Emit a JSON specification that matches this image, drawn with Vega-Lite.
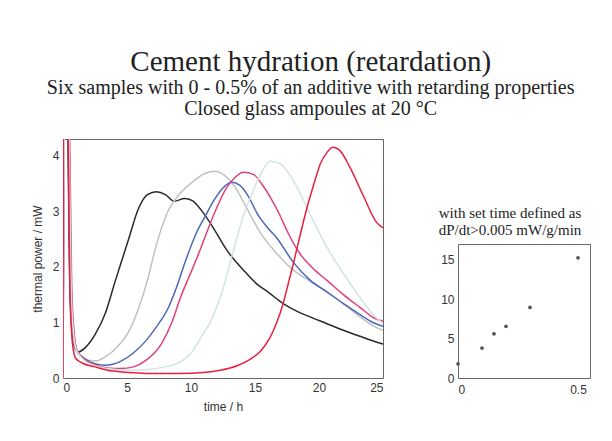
{
  "$schema": "https://vega.github.io/schema/vega-lite/v6.json",
  "background": "white",
  "padding": {"left": 30, "top": 47, "right": 5, "bottom": 5},
  "title": {
    "text": "Cement hydration (retardation)",
    "subtitle": ["Six samples with 0 - 0.5% of an additive with retarding properties", "Closed glass ampoules at 20 °C"],
    "font": "Liberation Serif", "fontSize": 29, "fontWeight": "normal", "color": "#222",
    "subtitleFont": "Liberation Serif", "subtitleFontSize": 20, "subtitleColor": "#222",
    "subtitleLineHeight": 21, "subtitlePadding": 1, "anchor": "middle", "offset": 20
  },
  "datasets": {
    "curves": [
      {"sample": "0%", "t": 0, "P": 0}, {"sample": "0%", "t": 0.1, "P": 5}, {"sample": "0%", "t": 0.3, "P": 5}, {"sample": "0%", "t": 0.55, "P": 1.5}, {"sample": "0%", "t": 0.75, "P": 0.75}, {"sample": "0%", "t": 0.95, "P": 0.52}, {"sample": "0%", "t": 1.2, "P": 0.47}, {"sample": "0%", "t": 1.8, "P": 0.56}, {"sample": "0%", "t": 2.5, "P": 0.78}, {"sample": "0%", "t": 3.3, "P": 1.16}, {"sample": "0%", "t": 4.05, "P": 1.72}, {"sample": "0%", "t": 4.6, "P": 2.12}, {"sample": "0%", "t": 5.1, "P": 2.48}, {"sample": "0%", "t": 5.9, "P": 3.05}, {"sample": "0%", "t": 6.6, "P": 3.3}, {"sample": "0%", "t": 7.3, "P": 3.35}, {"sample": "0%", "t": 8.0, "P": 3.3}, {"sample": "0%", "t": 8.7, "P": 3.18}, {"sample": "0%", "t": 9.5, "P": 3.23}, {"sample": "0%", "t": 10.1, "P": 3.19}, {"sample": "0%", "t": 10.8, "P": 3.02}, {"sample": "0%", "t": 11.8, "P": 2.68}, {"sample": "0%", "t": 12.8, "P": 2.3}, {"sample": "0%", "t": 14.1, "P": 1.94}, {"sample": "0%", "t": 15.2, "P": 1.68}, {"sample": "0%", "t": 16.0, "P": 1.55}, {"sample": "0%", "t": 17.2, "P": 1.34}, {"sample": "0%", "t": 18.3, "P": 1.2}, {"sample": "0%", "t": 19.3, "P": 1.1}, {"sample": "0%", "t": 20.5, "P": 0.99}, {"sample": "0%", "t": 21.9, "P": 0.86}, {"sample": "0%", "t": 23.2, "P": 0.75}, {"sample": "0%", "t": 24.3, "P": 0.66}, {"sample": "0%", "t": 25, "P": 0.61},

      {"sample": "0.1%", "t": 0, "P": 0}, {"sample": "0.1%", "t": 0.12, "P": 5}, {"sample": "0.1%", "t": 0.35, "P": 5}, {"sample": "0.1%", "t": 0.6, "P": 1.5}, {"sample": "0.1%", "t": 0.8, "P": 0.75}, {"sample": "0.1%", "t": 1.0, "P": 0.5}, {"sample": "0.1%", "t": 1.5, "P": 0.38}, {"sample": "0.1%", "t": 2.0, "P": 0.32}, {"sample": "0.1%", "t": 2.6, "P": 0.31}, {"sample": "0.1%", "t": 3.3, "P": 0.38}, {"sample": "0.1%", "t": 4.2, "P": 0.55}, {"sample": "0.1%", "t": 5.1, "P": 0.82}, {"sample": "0.1%", "t": 5.9, "P": 1.25}, {"sample": "0.1%", "t": 6.6, "P": 1.76}, {"sample": "0.1%", "t": 7.3, "P": 2.4}, {"sample": "0.1%", "t": 8.2, "P": 3.0}, {"sample": "0.1%", "t": 9.0, "P": 3.28}, {"sample": "0.1%", "t": 10.3, "P": 3.56}, {"sample": "0.1%", "t": 11.0, "P": 3.67}, {"sample": "0.1%", "t": 11.8, "P": 3.72}, {"sample": "0.1%", "t": 12.6, "P": 3.65}, {"sample": "0.1%", "t": 13.4, "P": 3.45}, {"sample": "0.1%", "t": 14.1, "P": 3.17}, {"sample": "0.1%", "t": 14.6, "P": 2.95}, {"sample": "0.1%", "t": 15.4, "P": 2.62}, {"sample": "0.1%", "t": 16.7, "P": 2.24}, {"sample": "0.1%", "t": 18.0, "P": 1.94}, {"sample": "0.1%", "t": 19.3, "P": 1.74}, {"sample": "0.1%", "t": 20.6, "P": 1.56}, {"sample": "0.1%", "t": 22.0, "P": 1.32}, {"sample": "0.1%", "t": 23.2, "P": 1.1}, {"sample": "0.1%", "t": 24.3, "P": 0.93}, {"sample": "0.1%", "t": 25, "P": 0.86},

      {"sample": "0.15%", "t": 0, "P": 0}, {"sample": "0.15%", "t": 0.15, "P": 5}, {"sample": "0.15%", "t": 0.4, "P": 5}, {"sample": "0.15%", "t": 0.65, "P": 1.5}, {"sample": "0.15%", "t": 0.85, "P": 0.75}, {"sample": "0.15%", "t": 1.05, "P": 0.5}, {"sample": "0.15%", "t": 1.5, "P": 0.38}, {"sample": "0.15%", "t": 2.2, "P": 0.28}, {"sample": "0.15%", "t": 3.3, "P": 0.23}, {"sample": "0.15%", "t": 4.5, "P": 0.3}, {"sample": "0.15%", "t": 5.5, "P": 0.45}, {"sample": "0.15%", "t": 6.4, "P": 0.65}, {"sample": "0.15%", "t": 7.3, "P": 0.92}, {"sample": "0.15%", "t": 8.2, "P": 1.25}, {"sample": "0.15%", "t": 8.9, "P": 1.65}, {"sample": "0.15%", "t": 9.5, "P": 2.06}, {"sample": "0.15%", "t": 10.5, "P": 2.65}, {"sample": "0.15%", "t": 11.2, "P": 2.95}, {"sample": "0.15%", "t": 11.8, "P": 3.2}, {"sample": "0.15%", "t": 12.5, "P": 3.42}, {"sample": "0.15%", "t": 13.2, "P": 3.52}, {"sample": "0.15%", "t": 13.8, "P": 3.47}, {"sample": "0.15%", "t": 14.4, "P": 3.3}, {"sample": "0.15%", "t": 15.2, "P": 2.95}, {"sample": "0.15%", "t": 16.0, "P": 2.7}, {"sample": "0.15%", "t": 16.7, "P": 2.52}, {"sample": "0.15%", "t": 18.0, "P": 2.08}, {"sample": "0.15%", "t": 19.3, "P": 1.76}, {"sample": "0.15%", "t": 20.6, "P": 1.55}, {"sample": "0.15%", "t": 21.9, "P": 1.34}, {"sample": "0.15%", "t": 23.2, "P": 1.14}, {"sample": "0.15%", "t": 24.3, "P": 0.99}, {"sample": "0.15%", "t": 25, "P": 0.93},

      {"sample": "0.2%", "t": 0, "P": 0}, {"sample": "0.2%", "t": 0.15, "P": 5}, {"sample": "0.2%", "t": 0.45, "P": 5}, {"sample": "0.2%", "t": 0.7, "P": 1.5}, {"sample": "0.2%", "t": 0.9, "P": 0.75}, {"sample": "0.2%", "t": 1.1, "P": 0.5}, {"sample": "0.2%", "t": 1.6, "P": 0.35}, {"sample": "0.2%", "t": 2.5, "P": 0.24}, {"sample": "0.2%", "t": 3.5, "P": 0.18}, {"sample": "0.2%", "t": 4.5, "P": 0.17}, {"sample": "0.2%", "t": 5.5, "P": 0.2}, {"sample": "0.2%", "t": 6.5, "P": 0.32}, {"sample": "0.2%", "t": 7.7, "P": 0.62}, {"sample": "0.2%", "t": 8.5, "P": 1.0}, {"sample": "0.2%", "t": 9.2, "P": 1.46}, {"sample": "0.2%", "t": 9.9, "P": 1.85}, {"sample": "0.2%", "t": 10.5, "P": 2.18}, {"sample": "0.2%", "t": 11.2, "P": 2.6}, {"sample": "0.2%", "t": 11.8, "P": 2.95}, {"sample": "0.2%", "t": 12.8, "P": 3.43}, {"sample": "0.2%", "t": 13.5, "P": 3.62}, {"sample": "0.2%", "t": 14.1, "P": 3.7}, {"sample": "0.2%", "t": 14.9, "P": 3.66}, {"sample": "0.2%", "t": 15.5, "P": 3.5}, {"sample": "0.2%", "t": 16.2, "P": 3.25}, {"sample": "0.2%", "t": 16.9, "P": 2.95}, {"sample": "0.2%", "t": 17.5, "P": 2.65}, {"sample": "0.2%", "t": 18.5, "P": 2.24}, {"sample": "0.2%", "t": 19.5, "P": 1.98}, {"sample": "0.2%", "t": 20.6, "P": 1.76}, {"sample": "0.2%", "t": 21.9, "P": 1.5}, {"sample": "0.2%", "t": 23.2, "P": 1.27}, {"sample": "0.2%", "t": 24.3, "P": 1.08}, {"sample": "0.2%", "t": 25, "P": 1.02},

      {"sample": "0.3%", "t": 0, "P": 0}, {"sample": "0.3%", "t": 0.15, "P": 5}, {"sample": "0.3%", "t": 0.4, "P": 5}, {"sample": "0.3%", "t": 0.65, "P": 1.5}, {"sample": "0.3%", "t": 0.85, "P": 0.75}, {"sample": "0.3%", "t": 1.05, "P": 0.5}, {"sample": "0.3%", "t": 1.6, "P": 0.33}, {"sample": "0.3%", "t": 2.5, "P": 0.22}, {"sample": "0.3%", "t": 3.5, "P": 0.17}, {"sample": "0.3%", "t": 5.0, "P": 0.14}, {"sample": "0.3%", "t": 6.5, "P": 0.15}, {"sample": "0.3%", "t": 8.0, "P": 0.2}, {"sample": "0.3%", "t": 9.0, "P": 0.27}, {"sample": "0.3%", "t": 10.0, "P": 0.45}, {"sample": "0.3%", "t": 10.8, "P": 0.74}, {"sample": "0.3%", "t": 11.6, "P": 1.05}, {"sample": "0.3%", "t": 12.3, "P": 1.46}, {"sample": "0.3%", "t": 13.4, "P": 2.36}, {"sample": "0.3%", "t": 14.0, "P": 2.85}, {"sample": "0.3%", "t": 14.65, "P": 3.25}, {"sample": "0.3%", "t": 15.4, "P": 3.65}, {"sample": "0.3%", "t": 16.2, "P": 3.9}, {"sample": "0.3%", "t": 17.0, "P": 3.85}, {"sample": "0.3%", "t": 18.0, "P": 3.55}, {"sample": "0.3%", "t": 19.3, "P": 2.95}, {"sample": "0.3%", "t": 20.6, "P": 2.36}, {"sample": "0.3%", "t": 21.9, "P": 1.88}, {"sample": "0.3%", "t": 23.2, "P": 1.45}, {"sample": "0.3%", "t": 24.3, "P": 1.12}, {"sample": "0.3%", "t": 25, "P": 0.98},

      {"sample": "0.5%", "t": 0, "P": 0}, {"sample": "0.5%", "t": 0.05, "P": 5}, {"sample": "0.5%", "t": 0.35, "P": 5}, {"sample": "0.5%", "t": 0.55, "P": 1.5}, {"sample": "0.5%", "t": 0.75, "P": 0.6}, {"sample": "0.5%", "t": 1.0, "P": 0.35}, {"sample": "0.5%", "t": 1.5, "P": 0.27}, {"sample": "0.5%", "t": 2.5, "P": 0.2}, {"sample": "0.5%", "t": 3.5, "P": 0.14}, {"sample": "0.5%", "t": 4.6, "P": 0.11}, {"sample": "0.5%", "t": 6.0, "P": 0.09}, {"sample": "0.5%", "t": 7.2, "P": 0.08}, {"sample": "0.5%", "t": 9.0, "P": 0.08}, {"sample": "0.5%", "t": 11.0, "P": 0.1}, {"sample": "0.5%", "t": 12.3, "P": 0.14}, {"sample": "0.5%", "t": 13.6, "P": 0.22}, {"sample": "0.5%", "t": 14.65, "P": 0.34}, {"sample": "0.5%", "t": 15.5, "P": 0.5}, {"sample": "0.5%", "t": 16.2, "P": 0.74}, {"sample": "0.5%", "t": 16.7, "P": 1.0}, {"sample": "0.5%", "t": 17.2, "P": 1.34}, {"sample": "0.5%", "t": 17.6, "P": 1.7}, {"sample": "0.5%", "t": 18.0, "P": 2.06}, {"sample": "0.5%", "t": 18.4, "P": 2.45}, {"sample": "0.5%", "t": 18.8, "P": 2.83}, {"sample": "0.5%", "t": 19.2, "P": 3.18}, {"sample": "0.5%", "t": 19.6, "P": 3.49}, {"sample": "0.5%", "t": 20.1, "P": 3.85}, {"sample": "0.5%", "t": 20.6, "P": 4.05}, {"sample": "0.5%", "t": 21.1, "P": 4.15}, {"sample": "0.5%", "t": 21.6, "P": 4.1}, {"sample": "0.5%", "t": 22.4, "P": 3.8}, {"sample": "0.5%", "t": 23.4, "P": 3.31}, {"sample": "0.5%", "t": 24.5, "P": 2.8}, {"sample": "0.5%", "t": 25, "P": 2.7}
    ],
    "settime": [
      {"additive": 0, "set": 1.8},
      {"additive": 0.1, "set": 3.8},
      {"additive": 0.15, "set": 5.6},
      {"additive": 0.2, "set": 6.55},
      {"additive": 0.3, "set": 8.95},
      {"additive": 0.5, "set": 15.25}
    ]
  },
  "spacing": 54,
  "config": {
    "view": {"stroke": "#666", "strokeWidth": 1},
    "axis": {
      "labelFont": "Liberation Sans", "labelFontSize": 12, "labelColor": "#333",
      "titleFont": "Liberation Sans", "titleFontSize": 12, "titleFontWeight": "normal", "titleColor": "#333",
      "grid": false, "domain": false, "ticks": false, "labelPadding": 4
    }
  },
  "hconcat": [
    {
      "width": 320, "height": 239,
      "data": {"name": "curves"},
      "mark": {"type": "line", "interpolate": "monotone", "strokeWidth": 1.5, "clip": true},
      "encoding": {
        "x": {"field": "t", "type": "quantitative", "scale": {"domain": [0, 25], "nice": false},
          "axis": {"values": [0, 5, 10, 15, 20, 25], "title": "time / h", "titlePadding": 8}},
        "y": {"field": "P", "type": "quantitative", "scale": {"domain": [0, 4.3], "nice": false},
          "axis": {"values": [0, 1, 2, 3, 4], "title": "thermal power / mW", "titlePadding": 8}},
        "color": {"field": "sample", "type": "nominal", "legend": null,
          "scale": {"domain": ["0%", "0.1%", "0.15%", "0.2%", "0.3%", "0.5%"],
                    "range": ["#2a2a2a", "#bcc4bf", "#4d66b8", "#e0407a", "#d2e4e4", "#e8203f"]}},
        "order": {"field": "t", "type": "quantitative"}
      }
    },
    {
      "spacing": 10,
      "vconcat": [
        {
          "width": 132, "height": 56,
          "view": {"stroke": null},
          "data": {"values": []},
          "mark": "point",
          "encoding": {}
        },
        {
          "width": 132, "height": 134,
          "title": {"text": ["with set time defined as", "dP/dt>0.005 mW/g/min"], "font": "Liberation Serif", "fontSize": 15, "fontWeight": "normal", "color": "#222", "lineHeight": 17, "anchor": "middle", "offset": 6, "dx": -14},
          "data": {"name": "settime"},
          "mark": {"type": "circle", "size": 14, "color": "#555", "opacity": 1, "clip": false},
          "encoding": {
            "x": {"field": "additive", "type": "quantitative", "scale": {"domain": [0, 0.55], "nice": false},
              "axis": {"values": [0, 0.5], "format": "~g", "title": null, "labelPadding": 6}},
            "y": {"field": "set", "type": "quantitative", "scale": {"domain": [0, 17], "nice": false},
              "axis": {"values": [0, 5, 10, 15], "title": null}}
          }
        }
      ]
    }
  ]
}
